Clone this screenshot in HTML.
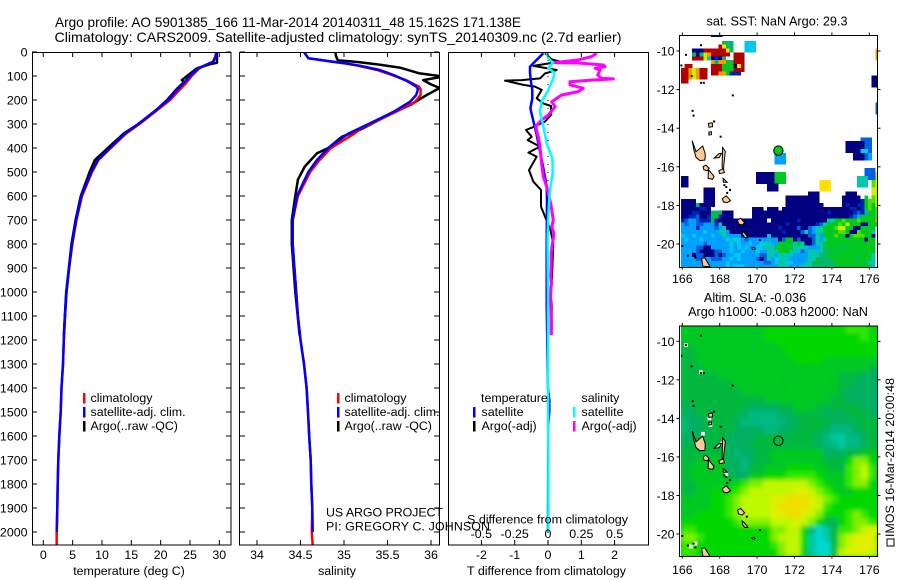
<!DOCTYPE html>
<html>
<head>
<meta charset="utf-8">
<title>Argo profile 5901385_166</title>
<style>
html,body{margin:0;padding:0;background:#fff;}
svg{display:block;}
text{font-family:"Liberation Sans",sans-serif;font-size:12.4px;fill:#000;}
.title{font-size:14px;}
.maptitle{font-size:12.7px;}
</style>
</head>
<body>
<svg id="chart" xmlns="http://www.w3.org/2000/svg" width="900" height="580" viewBox="0 0 900 580">
<defs>
<clipPath id="clip-t"><rect x="32" y="52" width="199" height="493"/></clipPath>
<clipPath id="clip-s"><rect x="240" y="52" width="199.5" height="493"/></clipPath>
<clipPath id="clip-d"><rect x="449" y="52" width="199.5" height="493"/></clipPath>
<clipPath id="clip-m1"><rect x="679.5" y="35" width="198" height="232"/></clipPath>
<clipPath id="clip-m2"><rect x="681" y="325.5" width="196.5" height="231"/></clipPath>
<filter id="soften" x="-5%" y="-5%" width="110%" height="110%"><feGaussianBlur stdDeviation="2.2"/></filter>
</defs>
<text class="title" x="55" y="27" textLength="466" lengthAdjust="spacingAndGlyphs">Argo profile: AO 5901385_166 11-Mar-2014 20140311_48 15.162S 171.138E</text>
<text class="title" x="54.5" y="42" textLength="567" lengthAdjust="spacingAndGlyphs">Climatology: CARS2009. Satellite-adjusted climatology: synTS_20140309.nc (2.7d earlier)</text>
<g id="panel-t"></g>
<g id="panel-s"></g>
<g id="panel-d"></g>
<g id="panel-m1"></g>
<g id="panel-m2"></g>
<text x="129" y="575" text-anchor="middle">temperature (deg C)</text>
<text x="337" y="575" text-anchor="middle">salinity</text>
<text x="467" y="575" textLength="159" lengthAdjust="spacingAndGlyphs">T difference from climatology</text>
<text x="467" y="523.5" textLength="161" lengthAdjust="spacingAndGlyphs">S difference from climatology</text>
<text x="326" y="516.5" textLength="117" lengthAdjust="spacing">US ARGO PROJECT</text>
<text x="326" y="530.5" textLength="164" lengthAdjust="spacing">PI: GREGORY C. JOHNSON</text>
<text class="maptitle" x="777" y="25.5" text-anchor="middle">sat. SST: NaN Argo: 29.3</text>
<text class="maptitle" x="755" y="302" text-anchor="middle">Altim. SLA: -0.036</text>
<text class="maptitle" x="778" y="316" text-anchor="middle">Argo h1000: -0.083 h2000: NaN</text>
<rect x="887" y="539" width="7" height="7" fill="none" stroke="#000" stroke-width="1"/>
<text transform="translate(894,537) rotate(-90)" textLength="159" lengthAdjust="spacing">IMOS 16-Mar-2014 20:00:48</text>
</svg>
<script>
/* ---------- profile data ---------- */
const tTicks = [0,5,10,15,20,25,30];
const sTicks = [34,34.5,35,35.5,36];
const depthTicks = [0,100,200,300,400,500,600,700,800,900,1000,1100,1200,1300,1400,1500,1600,1700,1800,1900,2000];
const tDiffTicks = [-2,-1,0,1,2];
const sDiffTicks = ['-0.5','-0.25','0','0.25','0.5'];

const depthClim = [0,20,40,68,100,130,161,200,250,300,340,400,450,500,600,700,800,900,1000,1100,1200,1300,1400,1500,1600,1700,1800,1900,2000,2054];
const climTemp = [29.5,29.3,28.9,26.6,25.3,24.3,23.1,21.6,19,16.4,14.1,11.5,9.4,8.3,6.6,5.65,4.95,4.4,3.95,3.7,3.5,3.35,3.1,2.96,2.73,2.56,2.45,2.39,2.28,2.28];
const depthSat = [0,20,40,68,100,130,161,200,250,300,340,400,450,500,600,700,800,900,1000,1100,1200,1300,1400,1500,1600,1700,1800,1900,2000];
const satTemp = [29.5,29.4,29,26.4,25,23.9,22.7,21.3,18.8,16.2,13.9,11.4,9.3,8.2,6.5,5.6,4.9,4.4,3.95,3.7,3.5,3.35,3.1,2.96,2.73,2.56,2.45,2.39,2.28];
const depthArgoT = [0,20,45,50,68,100,117,125,150,200,241,300,340,400,450,500,600,700,800,1000,1180];
const argoTemp = [29.55,29.6,29.6,28.5,26.2,24.5,23.6,24.0,22.9,21.1,19.3,16.2,13.7,11,8.8,7.9,6.4,5.5,4.8,3.9,3.5];

const depthClimS = [0,26,40,48,57,75,96,120,144,155,179,207,249,283,318,340,400,450,500,600,700,800,900,1000,1100,1200,1300,1400,1500,1600,1700,1800,1900,2000,2054];
const climSal = [34.54,34.59,34.85,35.02,35.16,35.38,35.55,35.73,35.86,35.88,35.88,35.82,35.6,35.4,35.2,35.12,34.85,34.72,34.61,34.47,34.41,34.41,34.43,34.45,34.47,34.5,34.54,34.57,34.586,34.6,34.617,34.624,34.636,34.63,34.64];
const depthSatS = [0,26,40,48,57,75,96,120,144,155,179,207,249,283,318,340,400,450,500,600,700,800,900,1000,1100,1200,1300,1400,1500,1600,1700,1800,1900,2000];
const satSal = [34.54,34.59,34.87,35.03,35.18,35.41,35.57,35.72,35.83,35.85,35.83,35.76,35.57,35.38,35.18,35.05,34.82,34.69,34.59,34.46,34.41,34.41,34.43,34.45,34.47,34.5,34.54,34.57,34.586,34.6,34.617,34.624,34.636,34.64];
const depthArgoS = [0,20,35,38,43,51,65,89,100,105,117,135,150,179,221,254,325,352,400,422,477,532,600,700,800,1000,1180];
const argoSal = [34.9,34.91,34.93,35.05,35.18,35.37,35.64,35.87,36.1,36.1,35.91,36,36.1,35.95,35.76,35.56,35.18,34.98,34.82,34.69,34.55,34.47,34.44,34.4,34.4,34.44,34.49];

const depthDiffSat = [5,33,61,89,124,158,193,235,269,304,346,394,450,506,561,617,783,1054,1400,1450,1500,1550,2000];
const satTDiff = [-0.14,-0.34,-0.54,-0.54,-0.51,-0.47,-0.47,-0.53,-0.47,-0.41,-0.34,-0.27,-0.19,-0.11,-0.04,-0.03,-0.04,-0.04,0,0.04,0.04,0.01,0];
const depthDiffArgo = [5,31,40,58,75,89,110,117,119,137,144,158,193,214,225,262,290,314,325,353,367,394,419,436,492,540,575,644,686,735,797,908,1019,1061,1158,1179];
const argoTDiff = [-0.09,0.11,0.36,-0.44,0.26,-0.09,-0.24,-0.79,-1.29,-0.74,-0.39,-0.19,-0.34,-0.14,0.09,0.09,-0.09,-0.47,-0.66,-0.49,-0.61,-0.24,-0.59,-0.34,-0.57,-0.44,-0.21,-0.21,-0.09,0.06,0.16,0.13,0.09,0.11,0.11,0.11];
const depthDiffSalSat = [5,26,44,68,86,110,158,207,249,297,381,443,506,575,672,783,1000,1400,1700,2000];
const satSDiff = [-0.01,0.003,0.035,0.003,0.048,0.04,0.003,-0.048,-0.06,-0.04,-0.01,0.033,0.035,0.015,0.003,-0.003,0,0,0.003,0.003];
const depthDiffSalArgo = [5,19,33,44,46,54,61,68,75,96,110,112,117,124,137,151,165,179,207,228,262,283,311,353,394,464,519,561,631,700,730,756,811,840,881,936,965,992,1033,1103,1179];
const argoSDiff = [0.365,0.328,0.228,0.053,0.228,0.415,0.428,0.353,0.39,0.373,0.403,0.49,0.328,0.165,0.165,0.265,0.228,0.103,0.028,0.053,0.003,-0.048,-0.093,-0.073,-0.06,-0.048,-0.035,-0.01,0.02,0.04,0.028,0.045,0.03,0.024,0.025,0.02,0.026,0.02,0.018,0.024,0.024];

/* ---------- map data ---------- */
const mapLonTicks = [166,168,170,172,174,176];
const mapLatTicks = [-10,-12,-14,-16,-18,-20];
const sstRows = [
"........nnn",
"",
"...........ggg...ccc",
"..........rYgg...ccc",
"...nnnrrrrrrYg...ccc................................o",
"...gngyorrrrr.rrr...................................o",
"...rrrytnbng..rrr...................................o",
"........ogooGgrrr",
".rr.....rrrGGGnYr",
"rroyorr.rrrGGGrrr",
"rroyorr.rrooGbbb",
"rroyorr............................................nn",
"rr.................................................nn",
"...................................................nn",
"","","","",
"....................................................B",
"....................................................B",
"....................................................B",
"","","","","","",
"................................................BBB",
"............................................nnnnnBB",
"............................................nnnnnBB",
"............................................nnnnccB",
".........................sss..................nnnBs",
".........................sss..................nnnBs",
".........................sss",
"",
".................................................BBB",
"....................nnnnnGGG.....................BBBY",
"nn..................nnnnnGGG...................tttBBy",
"nn..................nnnnnGGG.........YYY.......ttt.ly",
"nn.....................nnn...........YYY.......ttt.ly",
"......nnn..............nnn...........YYY...........yy",
"......nnn.........................nnn.......nnn....yy",
"......nnn...................nnnnnnnnn......nnnnn.G.ly",
"nnnn..nnn...................nnnnnnnnn......nnnnnbGlly",
"nnnngnnnn...................nnnnnnnnnn.....nbnnbbGlGy",
"nnnnnbbn...........nnn.nnn.nnnnnnnnnnnnnnnnnnbbnbGlGl",
"nnnbbnnngggnnn.....nnnnnnnnnnnnnnnnnnnnbnnnnnnbBbsGGlo",
"nnbbBnnbgGbnnn.....nnnnnnnnnnnnnnnnnnnnnnnnnnbBsGGGGl",
"bBssBbbbgbnnnnnnnnnnnnn.nnnnnnnbnnnnnnnttGGlGGGlGGGGo",
"sBssBBsssbtnnnnnnnnnnnnnnnnnbnnnnnnnbBtGGGlGyGGGnnGGG",
"ssssbssssBstnnnnnnnnnnnnnnbnnnnBnnBsttGGGlyyGGnnGGGG",
"sssssscsssttsnnnnnnnnnnnnnnbnnnnBtBsttGGGGllGnnlGGGt",
"csscsssscsstssssnnnnnnntnnnnnnnnnnBBtsGGGlGGnGlllGGn",
"scssscssssssctccsBssssssssnBGGnBnnnBtstGGGGGGGGGGnGG",
"ssssssBsssssscscsscsscttssGGGGtGtnnBttGGGGGGGGGGGGGG",
"ssssBBnnssssscscscsscctttGGGGGttttssstgGGGGgGGGGGGGG",
"ssssBnnnnBBsscsscssscsstttGGGtttBsttttggGgGGGGGGGGGG",
"sssnBBnnnBnBssccsssssBBttsttttsssstttggGGGGGGGGGGGGt",
"ssssBBssBBBsscscssssBnBtsctttsssssttggggGGGGGGGgGGGt",
"ssssssBssssscsssssssssBBscttccsssttgGggggGGGGGGGGgtt",
"sssssssssssscscccssssssssstttssstttgggggggGGGGGGGGGt"
];
const sstColours = ["n","b","B","s","c","t","g","G","l","y","Y","o","r"];
const sstHex = ["#000080","#0020b0","#0060e0","#00a0ff","#00c8f0","#00c8b0","#00b868","#00c820","#50e000","#c8f000","#ffe000","#ff9800","#b00000"];

const slaRows = [
"555555555556666666666677766",
"555555555556666666666666766",
"455555555555566666666666666",
"445555555555556666666666666",
"445555555555555666655555555",
"444555555555555555555555544",
"444445555555555555555444333",
"444444455555555555555443333",
"444444445555555555555433333",
"444444444445555555554433333",
"344444444333344555444444333",
"334444443222233444433344433",
"233444432222223344443334444",
"233444433332233444432223444",
"334444333344444444321122344",
"344444333444444444322122344",
"444444323344555555533344555",
"445555332344555555544468865",
"455555332445556666554478975",
"455555433556667777655578975",
"445555567889999998765578865",
"445566678999999aa9876556665",
"555566789999aabbba987666666",
"555566789999abbbba976666666",
"556666789999aabba9866678766",
"666666678888999a98643678876",
"7766666666668899620147789a9",
"8876666666668999610148 9aaa7",
"77666666666678996100489aaa8",
"7766666666666899510049aaa98"
];
const slaLevels = ["0","1","2","3","4","5","6","7","8","9","a","b"];
const slaHex = ["#00d8d0","#00c8a0","#00b880","#00b060","#00b840","#00c820","#00d800","#30e800","#80f000","#c0f800","#e0f000","#f0e000"];

const islands = [
 [[166.53,-14.65],[166.73,-15.22],[167.09,-14.92],[167.23,-15.34],[167.21,-15.65],[166.94,-15.68],[166.73,-15.51],[166.62,-15.13]],
 [[167.12,-15.99],[167.26,-15.91],[167.44,-16.08],[167.33,-16.2],[167.15,-16.15]],
 [[167.4,-16.15],[167.7,-16.5],[167.62,-16.65],[167.38,-16.6]],
 [[167.7,-15.55],[167.95,-15.32],[168.1,-15.3],[167.98,-15.52]],
 [[168.16,-15.0],[168.3,-15.2],[168.22,-15.9],[168.2,-16.3],[168.13,-16.0]],
 [[167.95,-16.2],[168.2,-16.1],[168.25,-16.3],[168.0,-16.35]],
 [[168.18,-16.6],[168.4,-16.8],[168.2,-16.8]],
 [[168.14,-17.65],[168.35,-17.5],[168.58,-17.75],[168.4,-17.86],[168.2,-17.82]],
 [[168.96,-18.75],[169.12,-18.67],[169.33,-18.9],[169.2,-19.02],[169.0,-18.95]],
 [[169.2,-19.33],[169.35,-19.45],[169.5,-19.65],[169.35,-19.67],[169.22,-19.5]],
 [[169.7,-20.2],[169.85,-20.17],[169.9,-20.25],[169.78,-20.28]],
 [[167.03,-20.75],[167.2,-20.71],[167.48,-21.17],[167.1,-21.15]],
 [[167.4,-13.75],[167.6,-13.72],[167.62,-13.92],[167.42,-13.95]],
 [[167.42,-14.2],[167.55,-14.18],[167.56,-14.33],[167.42,-14.35]]
];
const islets = [[166.2,-10.2],[167,-9.7],[165.95,-10.75],[166.5,-11.3],[167,-11.65],[167.15,-11.65],[168.7,-12.3],[166.55,-13.1],[166.6,-13.35],[167.7,-13.65],[168.05,-14.44],[168.55,-17.2],[168.4,-17.35],[170.15,-19.8],[169.45,-19.1],[166.3,-20.6],[166.6,-20.5],[166.7,-20.7],[166,-20.1],[168.25,-16.95],[168.35,-17.05]];
const slaGaps = [[166.2,-10.2],[167,-11.6],[167.45,-14],[167.5,-14.35],[166.45,-20.65],[166.7,-20.5],[167.1,-14.8],[168.15,-15.3],[168.35,-16.9]];
const floatPos = [171.138,-15.162];

/* ---------- axis functions ---------- */
const NS = "http://www.w3.org/2000/svg";
const yD = d => 52 + 0.24 * d;
const xT = v => 43.3 + 5.867 * v;
const xS = v => 257 + 87 * (v - 34);
const xDT = v => 548 + 33.3 * v;
const xDS = v => 548 + 133.3 * v;
const xLon = v => 682.3 + 18.7 * (v - 166);
const yLat1 = v => 51 + 19.3 * (-10 - v);
const yLat2 = v => 341.3 + 19.27 * (-10 - v);

function mk(parent, tag, name, props) {
  const el = document.createElementNS(NS, tag);
  
  
  for (const k in props) el.setAttribute(k, props[k]);
  parent.appendChild(el);
  return el;
}
function label(parent, name, x, y, str, anchor) {
  const el = mk(parent, 'text', name, {x: x, y: y, 'text-anchor': anchor || 'start'});
  el.textContent = str;
  return el;
}
function tick(parent, name, x1, y1, x2, y2) {
  mk(parent, 'line', name, {x1: x1, y1: y1, x2: x2, y2: y2, stroke: '#000', 'stroke-width': 1});
}
function line(parent, name, xs, ys, sx, colour, clip, w) {
  const pts = xs.map((v, i) => sx(v).toFixed(1) + ',' + yD(ys[i]).toFixed(1)).join(' ');
  mk(parent, 'polyline', name, {points: pts, fill: 'none', stroke: colour, 'stroke-width': w || 2.5, 'stroke-linejoin': 'round', 'clip-path': 'url(#' + clip + ')'});
}
function legendBar(parent, name, x, y, colour) {
  mk(parent, 'rect', name, {x: x, y: y, width: 2.5, height: 10.5, fill: colour});
}

/* ---------- temperature panel ---------- */
const pT = document.getElementById('panel-t');
line(pT, 'climatology-temperature-line', climTemp, depthClim, xT, '#ff0000', 'clip-t');
line(pT, 'argo-temperature-line', argoTemp, depthArgoT, xT, '#000000', 'clip-t');
line(pT, 'satellite-temperature-line', satTemp, depthSat, xT, '#0000ff', 'clip-t');
mk(pT, 'rect', 'temperature-frame', {x: 32.5, y: 52.5, width: 198.5, height: 492.5, fill: 'none', stroke: '#000', 'stroke-width': 1});
tTicks.forEach(v => {
  tick(pT, 'temperature-tick-top', xT(v), 52, xT(v), 57);
  tick(pT, 'temperature-tick-bottom', xT(v), 545, xT(v), 540);
  label(pT, 'temperature-tick-label', xT(v), 559, String(v), 'middle');
});
depthTicks.forEach(d => {
  tick(pT, 'depth-tick-left', 32, yD(d), 37, yD(d));
  tick(pT, 'depth-tick-right', 231, yD(d), 226, yD(d));
  label(pT, 'depth-tick-label', 27.5, yD(d) + 4.5, String(d), 'end');
});
legendBar(pT, 'legend-climatology-swatch', 83, 393, '#ff0000');
legendBar(pT, 'legend-satellite-swatch', 83, 407, '#0000ff');
legendBar(pT, 'legend-argo-swatch', 83, 421, '#000000');
label(pT, 'legend-climatology-label', 90.5, 402, 'climatology');
label(pT, 'legend-satellite-label', 90.5, 416, 'satellite-adj. clim.');
label(pT, 'legend-argo-label', 90.5, 430, 'Argo(..raw -QC)');

/* ---------- salinity panel ---------- */
const pS = document.getElementById('panel-s');
line(pS, 'argo-salinity-line', argoSal, depthArgoS, xS, '#000000', 'clip-s');
line(pS, 'climatology-salinity-line', climSal, depthClimS, xS, '#ff0000', 'clip-s');
line(pS, 'satellite-salinity-line', satSal, depthSatS, xS, '#0000ff', 'clip-s');
mk(pS, 'rect', 'salinity-frame', {x: 239.5, y: 52.5, width: 200, height: 492.5, fill: 'none', stroke: '#000', 'stroke-width': 1});
sTicks.forEach(v => {
  tick(pS, 'salinity-tick-top', xS(v), 52, xS(v), 57);
  tick(pS, 'salinity-tick-bottom', xS(v), 545, xS(v), 540);
  label(pS, 'salinity-tick-label', xS(v), 559, String(v), 'middle');
});
depthTicks.forEach(d => {
  tick(pS, 'salinity-depth-tick-left', 240, yD(d), 245, yD(d));
  tick(pS, 'salinity-depth-tick-right', 439, yD(d), 434, yD(d));
});
legendBar(pS, 'legend-climatology-swatch', 337, 393, '#ff0000');
legendBar(pS, 'legend-satellite-swatch', 337, 407, '#0000ff');
legendBar(pS, 'legend-argo-swatch', 337, 421, '#000000');
label(pS, 'legend-climatology-label', 344.5, 402, 'climatology');
label(pS, 'legend-satellite-label', 344.5, 416, 'satellite-adj. clim.');
label(pS, 'legend-argo-label', 344.5, 430, 'Argo(..raw -QC)');

/* ---------- difference panel ---------- */
const pD = document.getElementById('panel-d');
mk(pD, 'line', 'zero-difference-line', {x1: 548, y1: 52, x2: 548, y2: 545, stroke: '#000', 'stroke-width': 1, 'stroke-dasharray': '1 7'});
line(pD, 'argo-t-difference-line', argoTDiff, depthDiffArgo, xDT, '#000000', 'clip-d', 2);
line(pD, 'satellite-t-difference-line', satTDiff, depthDiffSat, xDT, '#0000ff', 'clip-d', 2.5);
line(pD, 'argo-s-difference-line', argoSDiff, depthDiffSalArgo, xDS, '#ff00ff', 'clip-d', 3);
line(pD, 'satellite-s-difference-line', satSDiff, depthDiffSalSat, xDS, '#00ffff', 'clip-d', 2.5);
mk(pD, 'rect', 'difference-frame', {x: 448.5, y: 52.5, width: 200, height: 492.5, fill: 'none', stroke: '#000', 'stroke-width': 1});
tDiffTicks.forEach(v => {
  tick(pD, 'difference-tick-top', xDT(v), 52, xDT(v), 57);
  tick(pD, 'difference-tick-bottom', xDT(v), 545, xDT(v), 540);
  label(pD, 't-difference-tick-label', xDT(v), 559, String(v), 'middle');
});
sDiffTicks.forEach(v => {
  label(pD, 's-difference-tick-label', xDS(Number(v)), 538, v, 'middle');
});
label(pD, 'legend-temperature-heading', 481, 402, 'temperature');
label(pD, 'legend-salinity-heading', 581.5, 402, 'salinity');
legendBar(pD, 'legend-t-satellite-swatch', 473, 407, '#0000ff');
legendBar(pD, 'legend-t-argo-swatch', 473, 421, '#000000');
legendBar(pD, 'legend-s-satellite-swatch', 573, 407, '#00ffff');
legendBar(pD, 'legend-s-argo-swatch', 573, 421, '#ff00ff');
label(pD, 'legend-t-satellite-label', 481.5, 416, 'satellite');
label(pD, 'legend-t-argo-label', 481.5, 430, 'Argo(-adj)');
label(pD, 'legend-s-satellite-label', 581.5, 416, 'satellite');
label(pD, 'legend-s-argo-label', 581.5, 430, 'Argo(-adj)');

/* ---------- maps ---------- */
function drawLand(parent, yLat, clip) {
  islands.forEach(poly => {
    const pts = poly.map(p => xLon(p[0]).toFixed(1) + ',' + yLat(p[1]).toFixed(1)).join(' ');
    mk(parent, 'polygon', 'island', {points: pts, fill: '#ffcc99', stroke: '#000', 'stroke-width': 1, 'clip-path': 'url(#' + clip + ')'});
  });
  islets.forEach(p => {
    mk(parent, 'rect', 'islet', {x: xLon(p[0]) - 1, y: yLat(p[1]) - 1, width: 2, height: 2, fill: '#000', 'clip-path': 'url(#' + clip + ')'});
  });
}
function mapFrame(parent, top, bottom, yLat, labelY, prefix) {
  mk(parent, 'rect', prefix + '-frame', {x: 679.5, y: top + 0.5, width: 198, height: bottom - top, fill: 'none', stroke: '#000', 'stroke-width': 1});
  mapLonTicks.forEach(v => {
    tick(parent, prefix + '-lon-tick-top', xLon(v), top, xLon(v), top - 2.5);
    tick(parent, prefix + '-lon-tick-bottom', xLon(v), bottom, xLon(v), bottom + 2.5);
    label(parent, prefix + '-lon-label', xLon(v), labelY, String(v), 'middle');
  });
  mapLatTicks.forEach(v => {
    tick(parent, prefix + '-lat-tick-left', 679, yLat(v), 676.5, yLat(v));
    tick(parent, prefix + '-lat-tick-right', 878, yLat(v), 880.5, yLat(v));
    label(parent, prefix + '-lat-label', 674.5, yLat(v) + 4.5, String(v), 'end');
  });
}
const pM1 = document.getElementById('panel-m1');
const g1 = mk(pM1, 'g', 'sst-cells', {'clip-path': 'url(#clip-m1)', 'shape-rendering': 'crispEdges'});
sstRows.forEach((row, r) => {
  row.split('').forEach((ch, c) => {
    const idx = sstColours.indexOf(ch);
    if (idx < 0) return;
    mk(g1, 'rect', 'sst-cell', {x: (681 + 3.74 * c).toFixed(2), y: (33.14 + 3.86 * r).toFixed(2), width: 3.9, height: 4, fill: sstHex[idx]});
  });
});
drawLand(pM1, yLat1, 'clip-m1');
mk(pM1, 'circle', 'argo-float-marker', {cx: xLon(floatPos[0]), cy: yLat1(floatPos[1]), r: 4.7, fill: '#00c820', stroke: '#000', 'stroke-width': 1});
mapFrame(pM1, 35, 267, yLat1, 283, 'sst');

const pM2 = document.getElementById('panel-m2');
const clip2 = mk(pM2, 'g', 'sla-field', {'clip-path': 'url(#clip-m2)'});
mk(clip2, 'rect', 'sla-field-base', {x: 681, y: 325, width: 197, height: 232, fill: '#00c820'});
const g2 = mk(clip2, 'g', 'sla-cells', {filter: 'url(#soften)'});
slaRows.forEach((row, r) => {
  row.replace(/ /g, '').split('').forEach((ch, c) => {
    const idx = slaLevels.indexOf(ch);
    if (idx < 0) return;
    mk(g2, 'rect', 'sla-cell', {x: (681 + 7.48 * c).toFixed(2), y: (325.7 + 7.7 * r).toFixed(2), width: 7.7, height: 7.9, fill: slaHex[idx]});
  });
});
slaGaps.forEach(p => {
  mk(pM2, 'rect', 'sla-missing-cell', {x: xLon(p[0]) - 1.9, y: yLat2(p[1]) - 1.9, width: 3.8, height: 3.8, fill: '#fff'});
});
drawLand(pM2, yLat2, 'clip-m2');
mk(pM2, 'circle', 'argo-float-marker-outline', {cx: xLon(floatPos[0]), cy: yLat2(floatPos[1]), r: 4.7, fill: 'none', stroke: '#000', 'stroke-width': 1});
mapFrame(pM2, 325.5, 556, yLat2, 574, 'sla');
</script>
</body>
</html>
